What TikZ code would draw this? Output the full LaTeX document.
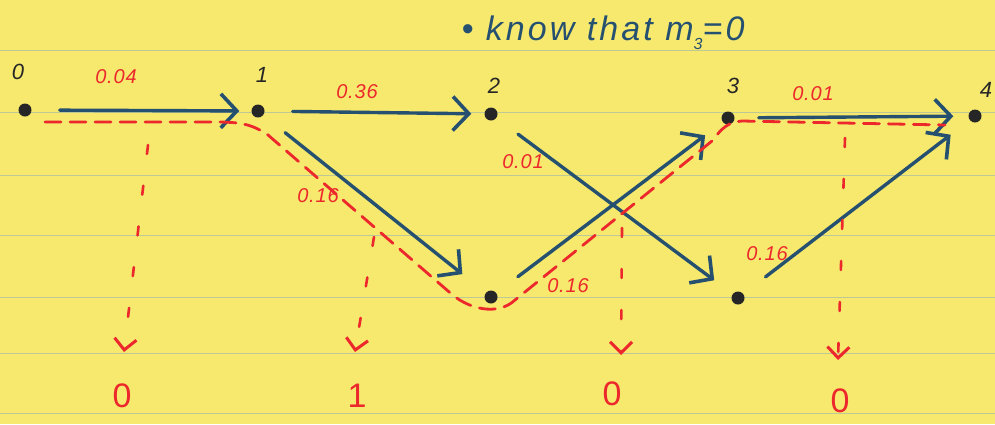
\documentclass[tikz,border=0pt]{standalone}
\usepackage{fontspec}
\setmainfont{Liberation Sans}
\usetikzlibrary{arrows.meta}
\definecolor{paper}{RGB}{246,233,110}
\definecolor{rulecol}{RGB}{190,200,150}
\definecolor{ink}{RGB}{38,80,112}
\definecolor{redink}{RGB}{236,40,44}
\begin{document}
\begin{tikzpicture}[x=1pt,y=-1pt,
  dot/.style={circle,fill=black!85,inner sep=0pt,minimum size=13pt},
  vlbl/.style={font=\itshape\fontsize{22}{22}\selectfont,text=black!85},
  elbl/.style={font=\itshape\fontsize{20}{20}\selectfont\addfontfeatures{LetterSpace=4},text=redink},
  blbl/.style={font=\fontsize{34}{34}\selectfont,text=redink},
  barrow/.style={draw=ink,line width=3.4pt,line cap=round,-{Straight Barb[length=16pt,width=34pt,line width=3.6pt]}},
  rdash/.style={draw=redink,line width=2.8pt,dash pattern=on 16pt off 9pt,line cap=round},
  rdown/.style={draw=redink,line width=2.6pt,dash pattern=on 9pt off 32pt,line cap=round,-{Straight Barb[length=11pt,width=22pt,line width=3pt]}},
  rulestyle/.style={draw=rulecol,line width=1pt}]
\fill[paper] (0,0) rectangle (995,424);
\useasboundingbox (0,0) rectangle (995,424);
\foreach \y in {50,112,175,235,297,353,413} \draw[rulestyle] (0,\y) -- (995,\y);

% heading
\node[font=\itshape\fontsize{34}{34}\selectfont\addfontfeatures{LetterSpace=9},text=ink,anchor=west] (head) at (458,33) {\textbullet\ know that \textit{m}\raisebox{-0.25em}{\fontsize{16}{16}\selectfont 3}=0};

% nodes
\node[dot] (n0) at (25,110) {};
\node[dot] (n1) at (258,111) {};
\node[dot] (n2) at (491,114) {};
\node[dot] (b1) at (491,297) {};
\node[dot] (n3) at (728,118) {};
\node[dot] (b2) at (738,298) {};
\node[dot] (n4) at (975,116) {};

\node[vlbl] (t0) at (18,72) {0};
\node[vlbl] (t1) at (262,75) {1};
\node[vlbl] (t2) at (494,86) {2};
\node[vlbl] (t3) at (733,86) {3};
\node[vlbl] (t4) at (986,90) {4};

% blue arrows
\draw[barrow,shorten <=28pt,shorten >=12pt] (n0) -- (n1);
\draw[barrow,shorten <=28pt,shorten >=13pt] (n1) -- (n2);
\draw[barrow,shorten <=28pt,shorten >=30pt] (n1) -- (b1);
\draw[barrow,shorten <=27pt,shorten >=23pt] (n2) -- (b2);
\draw[barrow,shorten <=27pt,shorten >=22pt] (b1) -- (n3);
\draw[barrow,shorten <=24pt,shorten >=15pt] (n3) -- (n4);
\draw[barrow,shorten <=28pt,shorten >=24pt] (b2) -- (n4);

% edge labels
\node[elbl] (e01) at (116,77) {0.04};
\node[elbl] (e12) at (357,92) {0.36};
\node[elbl] (e1b) at (318,196) {0.16};
\node[elbl] (e2b) at (523,162) {0.01};
\node[elbl] (eb3) at (568,286) {0.16};
\node[elbl] (e34) at (813,94) {0.01};
\node[elbl] (eb4) at (767,254) {0.16};

% red dashed path
\coordinate (r0) at (45,122);
\coordinate (r1) at (215,122);
\coordinate (r2) at (268,135);
\coordinate (r3) at (448,291);
\coordinate (r4) at (515,300);
\coordinate (r5) at (712,141);
\coordinate (r6) at (742,121);
\coordinate (r7) at (945,125);
\draw[rdash] (r0) -- (r1) .. controls (240,122) and (252,124) .. (r2) -- (r3)
  .. controls (468,310) and (498,316) .. (r4) -- (r5)
  .. controls (722,128) and (728,122) .. (r6) -- (r7);

% vertical red arrows
\coordinate (v1a) at (148,145);
\coordinate (v1b) at (124,352);
\coordinate (v2a) at (374,237);
\coordinate (v2b) at (355,352);
\coordinate (v3a) at (622,228);
\coordinate (v3b) at (621,355);
\coordinate (v4a) at (845,138);
\coordinate (v4b) at (838,360);
\draw[rdown] (v1a) -- (v1b);
\draw[rdown] (v2a) -- (v2b);
\draw[rdown] (v3a) -- (v3b);
\draw[rdown] (v4a) -- (v4b);

\node[blbl] (o1) at (122,396) {0};
\node[blbl] (o2) at (357,396) {1};
\node[blbl] (o3) at (612,394) {0};
\node[blbl] (o4) at (840,401) {0};
\end{tikzpicture}
\end{document}
